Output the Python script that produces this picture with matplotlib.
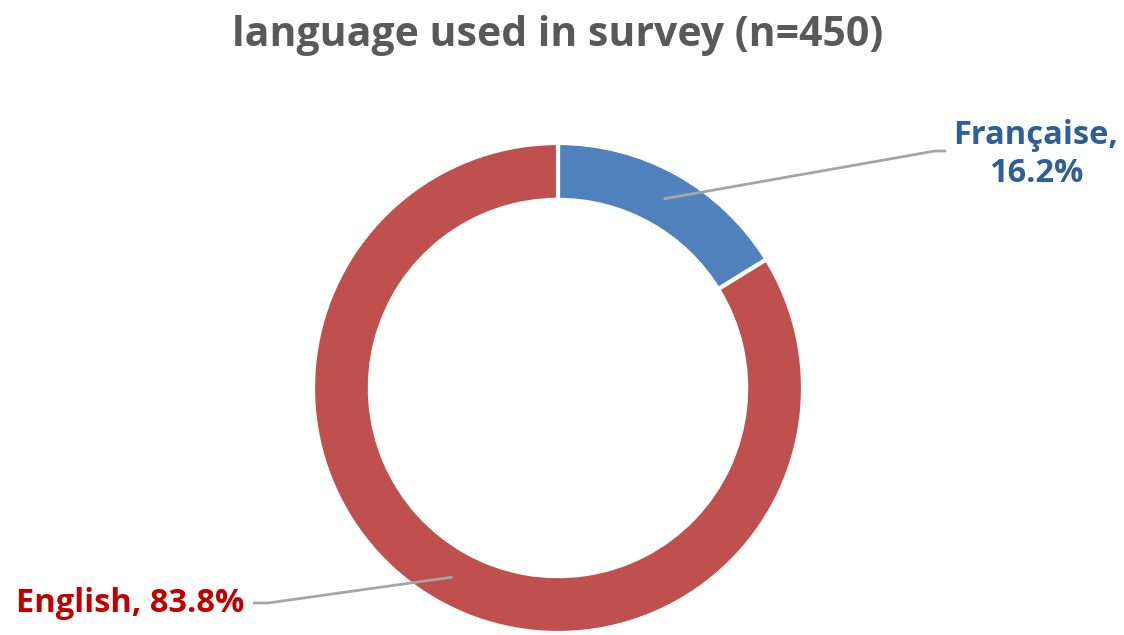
import numpy as np
import matplotlib.pyplot as plt

# survey language split
languages = ['Française', 'English']
shares = [16.2, 83.8]
wedge_colors = ['#4F81BD', '#C0504D']
label_colors = ['#2F5F98', '#C00000']

plt.rcParams['font.family'] = ['Open Sans', 'DejaVu Sans']

fig = plt.figure(figsize=(11.24, 6.35), dpi=100)
ax = fig.add_axes([0, 0, 1, 1])

cx, cy = 558, 247
R = 245
ring = 0.232

wedges, _ = ax.pie(shares, colors=wedge_colors, startangle=90, counterclock=False,
                   radius=R, center=(cx, cy), frame=True,
                   wedgeprops=dict(width=R * ring, edgecolor='white', linewidth=3))
ax.set_xlim(0, 1124)
ax.set_ylim(0, 635)
ax.set_aspect('equal')
ax.axis('off')

# leader lines start at the middle of each ring segment
r_mid = R * (1 - ring / 2)
elbows = [[(935, 484), (946, 484)], [(268, 32), (253, 32)]]
text_pos = [(1036, 481), (130, 31)]
for w, lab, val, col, elb, tp in zip(wedges, languages, shares, label_colors, elbows, text_pos):
    ang = np.deg2rad((w.theta1 + w.theta2) / 2)
    x0, y0 = cx + r_mid * np.cos(ang), cy + r_mid * np.sin(ang)
    xs = [x0] + [p[0] for p in elb]
    ys = [y0] + [p[1] for p in elb]
    ax.plot(xs, ys, color='#A6A6A6', lw=2, solid_capstyle='butt')
    if lab == 'English':
        ax.text(tp[0], tp[1], '%s, %.1f%%' % (lab, val), color=col, fontsize=23.5,
                fontweight='bold', ha='center', va='center')
    else:
        ax.text(tp[0], tp[1], '%s,\n%.1f%%' % (lab, val), color=col, fontsize=23.5,
                fontweight='bold', ha='center', va='center', linespacing=1.2)

ax.text(558, 600, 'language used in survey (n=450)', color='#595959', fontsize=29.5,
        fontweight='bold', ha='center', va='center')

fig.savefig('out.png', dpi=100)
